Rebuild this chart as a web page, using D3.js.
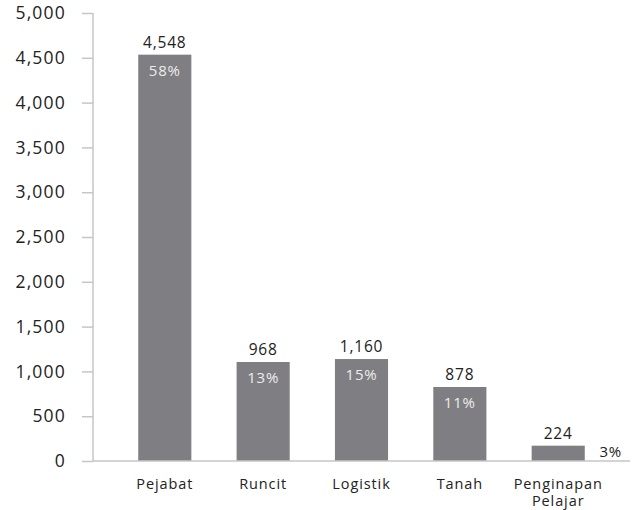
<!DOCTYPE html>
<html>
<head>
<meta charset="utf-8">
<script src="https://cdn.jsdelivr.net/npm/d3@7"></script>
<style>
  body { margin: 0; background: #fff; }
  text { font-family: "Open Sans", sans-serif; }
</style>
</head>
<body>
<div id="chart-area"></div>
<script>
var width = 638;
var height = 510;

// data
var categories = ["Pejabat", "Runcit", "Logistik", "Tanah", "Penginapan Pelajar"];
var barValues = [4535, 1105, 1138, 826, 171];   // bar heights as drawn
var valueLabels = ["4,548", "968", "1,160", "878", "224"];
var shareLabels = ["58%", "13%", "15%", "11%", "3%"];
var yTicks = [0, 500, 1000, 1500, 2000, 2500, 3000, 3500, 4000, 4500, 5000];

var svg = d3.select("#chart-area").append("svg")
  .attr("width", width)
  .attr("height", height)

var x = d3.scaleBand()
  .domain(categories)
  .range([93, 630])
  .paddingInner(0.46)
  .paddingOuter(0.46)

var y = d3.scaleLinear()
  .domain([0, 5000])
  .range([461, 13])

// Y axis
var yAxisCall = d3.axisLeft(y)
  .tickValues(yTicks)
  .tickSize(11)
  .tickPadding(16)
  .tickFormat(d3.format(","))

var yAxisGroup = svg.append("g")
  .attr("transform", "translate(93, 0)")
  .call(yAxisCall)

yAxisGroup.select(".domain").remove()
yAxisGroup.selectAll("line").attr("stroke", "#c6c6c6").attr("stroke-width", 1.5)
yAxisGroup.selectAll("text")
  .attr("font-size", "17.5px")
  .attr("fill", "#222")
  .attr("letter-spacing", "1.2px")
  .style("font-family", "'Open Sans', sans-serif")

svg.append("line")
  .attr("x1", 93).attr("x2", 93)
  .attr("y1", y(5000)).attr("y2", y(0))
  .attr("stroke", "#c6c6c6").attr("stroke-width", 1.5)

// bars
svg.selectAll("rect.bar")
  .data(categories)
  .enter().append("rect")
  .attr("class", "bar")
  .attr("x", d => x(d))
  .attr("y", (d, i) => y(barValues[i]))
  .attr("width", x.bandwidth())
  .attr("height", (d, i) => y(0) - y(barValues[i]))
  .attr("fill", "#7f7f83")

// baseline
svg.append("line")
  .attr("x1", 93).attr("x2", 630)
  .attr("y1", y(0)).attr("y2", y(0))
  .attr("stroke", "#c6c6c6").attr("stroke-width", 1.5)

// value labels
svg.selectAll("text.value")
  .data(categories)
  .enter().append("text")
  .attr("class", "value")
  .attr("x", d => x(d) + x.bandwidth() / 2)
  .attr("y", (d, i) => y(barValues[i]) - 7)
  .attr("text-anchor", "middle")
  .attr("font-size", "15.5px")
  .attr("letter-spacing", "0.8px")
  .attr("fill", "#222")
  .text((d, i) => valueLabels[i])

// share labels (last one sits beside its short bar)
svg.selectAll("text.share")
  .data(categories)
  .enter().append("text")
  .attr("class", "share")
  .attr("x", (d, i) => i < 4 ? x(d) + x.bandwidth() / 2 : x(d) + x.bandwidth() + 26)
  .attr("y", (d, i) => i < 4 ? y(barValues[i]) + 21 : y(0) - 4)
  .attr("text-anchor", "middle")
  .attr("font-size", "15px")
  .attr("letter-spacing", "0.8px")
  .attr("fill", (d, i) => i < 4 ? "#ececec" : "#222")
  .text((d, i) => shareLabels[i])

// category labels
var cat = svg.selectAll("text.cat")
  .data(categories)
  .enter().append("text")
  .attr("class", "cat")
  .attr("x", d => x(d) + x.bandwidth() / 2)
  .attr("y", 489)
  .attr("text-anchor", "middle")
  .attr("font-size", "14.5px")
  .attr("letter-spacing", "0.9px")
  .attr("fill", "#222")

cat.each(function(d) {
  var words = d.split(" ")
  var t = d3.select(this)
  words.forEach((w, j) => {
    t.append("tspan")
      .attr("x", x(d) + x.bandwidth() / 2)
      .attr("dy", j == 0 ? 0 : 16.5)
      .text(w)
  })
})
</script>
</body>
</html>
